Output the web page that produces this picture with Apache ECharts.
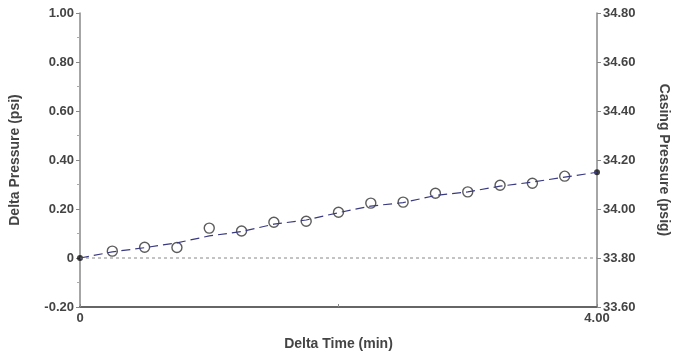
<!DOCTYPE html>
<html><head><meta charset="utf-8">
<script src="https://cdn.jsdelivr.net/npm/echarts@6/dist/echarts.min.js"></script>
<style>html,body{margin:0;padding:0;background:#fff}#c{width:679px;height:356px}</style>
</head><body><div id="c"></div>
<script>
var times = [0.25,0.5,0.75,1.0,1.25,1.5,1.75,2.0,2.25,2.5,2.75,3.0,3.25,3.5,3.75];
var deltaP = [0.028,0.044,0.043,0.122,0.11,0.146,0.15,0.187,0.224,0.228,0.264,0.27,0.297,0.305,0.334];
var lineTimes = [0,0.25,0.5,0.75,1.0,1.25,1.5,1.75,2.0,2.25,2.5,2.75,3.0,3.25,3.5,3.75,4.0];
var lineVals = [0,0.025,0.042,0.062,0.09,0.108,0.138,0.155,0.185,0.212,0.226,0.255,0.27,0.293,0.31,0.33,0.35];
var endTimes = [0,4.0];
var endVals = [0,0.35];
var zeroTimes = [0,4.0];
var zeroVals = [0,0];
var leftTicks = ['-0.20','0','0.20','0.40','0.60','0.80','1.00'];
var rightTicks = ['33.60','33.80','34.00','34.20','34.40','34.60','34.80'];
var xTicks = ['0','','4.00'];

var chart = echarts.init(document.getElementById('c'));
var font = {fontFamily:'Liberation Sans', fontWeight:'bold', fontSize:13, color:'#444'};
var nameFont = {fontFamily:'Liberation Sans', fontWeight:'bold', fontSize:14, color:'#444'};
function idx(v, min, step){return Math.round((v-min)/step);}
chart.setOption({
  animation:false,
  grid:{left:80,right:82,top:13,bottom:48},
  xAxis:{type:'value',min:0,max:4,interval:2,position:'bottom',
    name:'Delta Time (min)',nameLocation:'middle',nameGap:30,
    nameTextStyle:nameFont,
    axisLine:{show:true,onZero:false,lineStyle:{color:'#666',width:2}},
    axisTick:{show:true,inside:true,length:3,lineStyle:{color:'#888'}},
    splitLine:{show:false},
    axisLabel:Object.assign({margin:5,formatter:function(v){return xTicks[idx(v,0,2)];}},font)
  },
  yAxis:[
    {type:'value',min:-0.2,max:1.0,interval:0.2,position:'left',
     name:'Delta Pressure (psi)',nameLocation:'middle',nameGap:58,nameRotate:90,
     nameTextStyle:nameFont,
     axisLine:{show:true,onZero:false,lineStyle:{color:'#888',width:1.5}},
     axisTick:{show:true,length:4,lineStyle:{color:'#888'}},
     minorTick:{show:true,splitNumber:2,length:3,lineStyle:{color:'#aaa'}},
     splitLine:{show:false},
     axisLabel:Object.assign({margin:6,formatter:function(v){return leftTicks[idx(v,-0.2,0.2)];}},font)
    },
    {type:'value',min:33.6,max:34.8,interval:0.2,position:'right',
     name:'Casing Pressure (psig)',nameLocation:'middle',nameGap:60,nameRotate:-90,
     nameTextStyle:nameFont,
     axisLine:{show:true,onZero:false,lineStyle:{color:'#888',width:1.5}},
     axisTick:{show:true,length:4,lineStyle:{color:'#888'}},
     splitLine:{show:false},
     axisLabel:Object.assign({margin:6,formatter:function(v){return rightTicks[idx(v,33.6,0.2)];}},font)
    }
  ],
  series:[
    {type:'line',data:zeroTimes.map(function(t,i){return [t,zeroVals[i]];}),symbol:'none',silent:true,
     lineStyle:{color:'#888',width:1,type:[3,3]}},
    {type:'line',data:lineTimes.map(function(t,i){return [t,lineVals[i]];}),symbol:'none',
     lineStyle:{color:'#3a3a80',width:1.2,type:[9,5]}},
    {type:'scatter',data:times.map(function(t,i){return [t,deltaP[i]];}),symbol:'circle',symbolSize:10,
     itemStyle:{color:'rgba(255,255,255,0)',borderColor:'#333',borderWidth:1.4}},
    {type:'scatter',data:endTimes.map(function(t,i){return [t,endVals[i]];}),symbol:'circle',symbolSize:6,
     itemStyle:{color:'#111'}}
  ]
});
</script></body></html>
